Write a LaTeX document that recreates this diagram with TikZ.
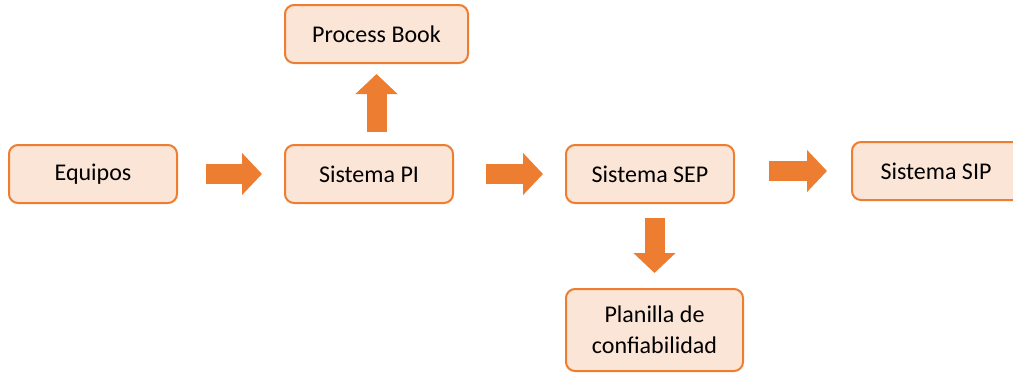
\documentclass[tikz,border=0pt]{standalone}
\usepackage{fontspec}
\setmainfont{Carlito}
\usetikzlibrary{arrows.meta}

\definecolor{boxline}{HTML}{ED7D31}
\definecolor{boxfill}{HTML}{FBE5D6}
\definecolor{arrowfill}{HTML}{ED7D31}

\tikzset{
  block/.style={draw=boxline, fill=boxfill, line width=2pt, rounded corners=9pt,
    minimum width=168pt, minimum height=58pt, inner sep=0pt, align=center,
    font=\fontsize{24}{29}\selectfont},
  flow/.style={draw=arrowfill, line width=20pt,
    -{Triangle[width=41pt,length=20pt,fill=arrowfill]}}
}

\begin{document}
\begin{tikzpicture}[x=1pt,y=1pt]
	\useasboundingbox (0,0) rectangle (1013,-373);
	
	% boxes
	\node[block] (eq) at (93,-174) {Equipos};
	\node[block] (pi) at (369,-174) {Sistema PI};
	\node[block, minimum width=183pt] (pb) at (376.5,-34) {Process Book};
	\node[block] (sep) at (650,-174) {Sistema SEP};
	\node[block, minimum width=190pt] (sip) at (947,-171) {Sistema SIP\hspace*{22pt}};
	\node[block, minimum width=177pt, minimum height=82pt,
	  font=\fontsize{24}{31}\selectfont] (pl) at (654.5,-330) {Planilla de\\confiabilidad};
	
	% arrows
	\draw[flow, shorten <=28pt, shorten >=22pt] (eq.east) -- (pi.west);
	\draw[flow, shorten <=12pt, shorten >=10pt] (pi.north -| pb.south) -- (pb.south);
	\draw[flow, shorten <=32pt, shorten >=22pt] (pi.east) -- (sep.west);
	\draw[flow, shorten <=34pt, shorten >=24pt] (sep.east |- sip.west) -- (sip.west);
	\draw[flow, shorten <=14pt, shorten >=15pt] (sep.south -| pl.north) -- (pl.north);
\end{tikzpicture}
\end{document}
